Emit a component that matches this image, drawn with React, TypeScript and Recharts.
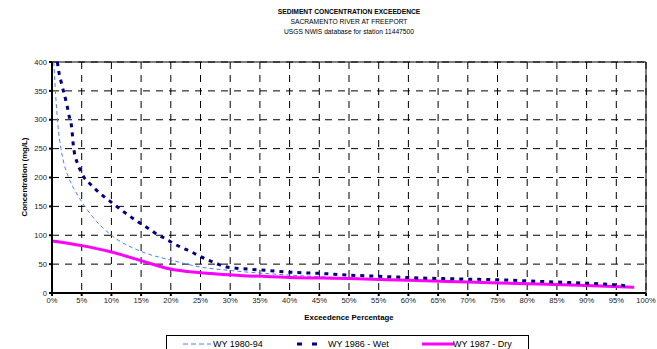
import { LineChart, Line, XAxis, YAxis, CartesianGrid, ReferenceLine } from "recharts";

const xTicks = [0, 5, 10, 15, 20, 25, 30, 35, 40, 45, 50, 55, 60, 65, 70, 75, 80, 85, 90, 95, 100];
const yTicks = [0, 50, 100, 150, 200, 250, 300, 350, 400];

// WY 1980-94 (period of record)
const allPct = [0.3, 0.7, 1, 1.5, 2, 3, 4, 5, 7, 10, 15, 20, 25, 30, 40, 50, 60, 70, 80, 90, 98];
const allConc = [400, 330, 290, 250, 225, 195, 175, 158, 130, 100, 72, 57, 45, 39, 31, 26, 22, 19, 16, 13, 10];

// WY 1986 - Wet
const wetPct = [0.9, 1.1, 1.6, 2.5, 3, 3.3, 3.6, 4.3, 4.8, 5.4, 6.3, 7.2, 8.5, 10, 11.5, 13.1, 14.8, 16.5, 17.9, 19, 20.4, 22, 23.5, 25, 27.7, 29.4, 31, 35, 40, 45, 50, 55, 62, 70, 75, 80, 85, 90, 95, 97];
const wetConc = [400, 386, 363, 326, 301, 288, 255, 224, 212, 200, 190, 181, 169, 157, 145, 133, 121, 110, 100, 95, 86, 78, 71, 63, 51, 45, 43, 40, 36, 34, 31, 29, 26, 24, 23, 21, 19, 17, 14, 12];

// WY 1987 - Dry
const dryPct = [0, 5, 10, 15, 19.7, 25, 31.6, 40, 50, 60, 70, 80, 90, 98];
const dryConc = [90, 82, 71, 56, 42, 35, 30.5, 27, 25, 22, 19, 16, 13, 10];

const toRows = (xs: number[], ys: number[]) => xs.map((x, i) => ({ x, y: ys[i] }));

const FONT = "'Liberation Sans', Arial, sans-serif";

export default function App() {
  return (
    <div style={{ position: "absolute", left: 0, top: 0, width: 657, height: 349, background: "#fff", fontFamily: FONT, overflow: "hidden" }}>
      <div style={{ position: "absolute", left: 0, width: 698, top: 6.5, textAlign: "center", fontSize: 6.7, lineHeight: "10.3px", color: "#000" }}>
        <div style={{ fontWeight: "bold" }}>SEDIMENT CONCENTRATION EXCEEDENCE</div>
        <div>SACRAMENTO RIVER AT FREEPORT</div>
        <div>USGS NWIS database for station 11447500</div>
      </div>

      <LineChart width={657} height={349} margin={{ top: 62, right: 11, bottom: 36, left: 22 }}>
        <CartesianGrid stroke="#000" strokeDasharray="7 6" strokeWidth={1} />
        <XAxis
          type="number"
          dataKey="x"
          domain={[0, 100]}
          ticks={xTicks}
          tickFormatter={(v) => `${v}%`}
          height={20}
          stroke="#000"
          strokeWidth={2}
          tickSize={3}
          tick={{ fontSize: 7.6, fill: "#222", fontFamily: FONT }}
          interval={0}
        />
        <YAxis
          type="number"
          domain={[0, 400]}
          ticks={yTicks}
          width={30}
          stroke="#000"
          strokeWidth={2}
          tickSize={3}
          tick={{ fontSize: 7.6, fill: "#222", fontFamily: FONT }}
          interval={0}
        />
        <ReferenceLine y={400} stroke="#000" strokeWidth={1} />
        <ReferenceLine x={100} stroke="#000" strokeWidth={1} />
        <Line
          data={toRows(allPct, allConc)}
          dataKey="y"
          type="monotone"
          stroke="#4d7fff"
          strokeWidth={1}
          strokeDasharray="4 3"
          dot={false}
          isAnimationActive={false}
        />
        <Line
          data={toRows(dryPct, dryConc)}
          dataKey="y"
          type="monotone"
          stroke="#ff00ff"
          strokeWidth={3}
          dot={false}
          isAnimationActive={false}
        />
        <Line
          data={toRows(wetPct, wetConc)}
          dataKey="y"
          type="monotone"
          stroke="#000080"
          strokeWidth={3}
          strokeDasharray="4 5"
          dot={false}
          isAnimationActive={false}
        />
      </LineChart>

      <div style={{ position: "absolute", left: 0, width: 698, top: 313, textAlign: "center", fontSize: 7.8, fontWeight: "bold" }}>
        Exceedence Percentage
      </div>
      <div
        style={{
          position: "absolute",
          left: 24,
          top: 177,
          transform: "translate(-50%, -50%) rotate(-90deg)",
          fontSize: 7.8,
          fontWeight: "bold",
          whiteSpace: "nowrap",
        }}
      >
        Concentration (mg/L)
      </div>

      <div style={{ position: "absolute", left: 166, top: 335, width: 363, height: 20, border: "1px solid #000", boxSizing: "border-box", fontSize: 9 }}>
        <svg width={363} height={20} style={{ position: "absolute", left: 0, top: 0 }}>
          <line x1={16} x2={44} y1={8} y2={8} stroke="#4d7fff" strokeWidth={1} strokeDasharray="5 3" />
          <line x1={130} x2={151} y1={8} y2={8} stroke="#000080" strokeWidth={3} strokeDasharray="5 10" />
          <line x1={255} x2={287} y1={8} y2={8} stroke="#ff00ff" strokeWidth={3} />
        </svg>
        <span style={{ position: "absolute", left: 46, top: 2, lineHeight: "12px" }}>WY 1980-94</span>
        <span style={{ position: "absolute", left: 161, top: 2, lineHeight: "12px" }}>WY 1986 - Wet</span>
        <span style={{ position: "absolute", left: 286, top: 2, lineHeight: "12px" }}>WY 1987 - Dry</span>
      </div>
    </div>
  );
}
